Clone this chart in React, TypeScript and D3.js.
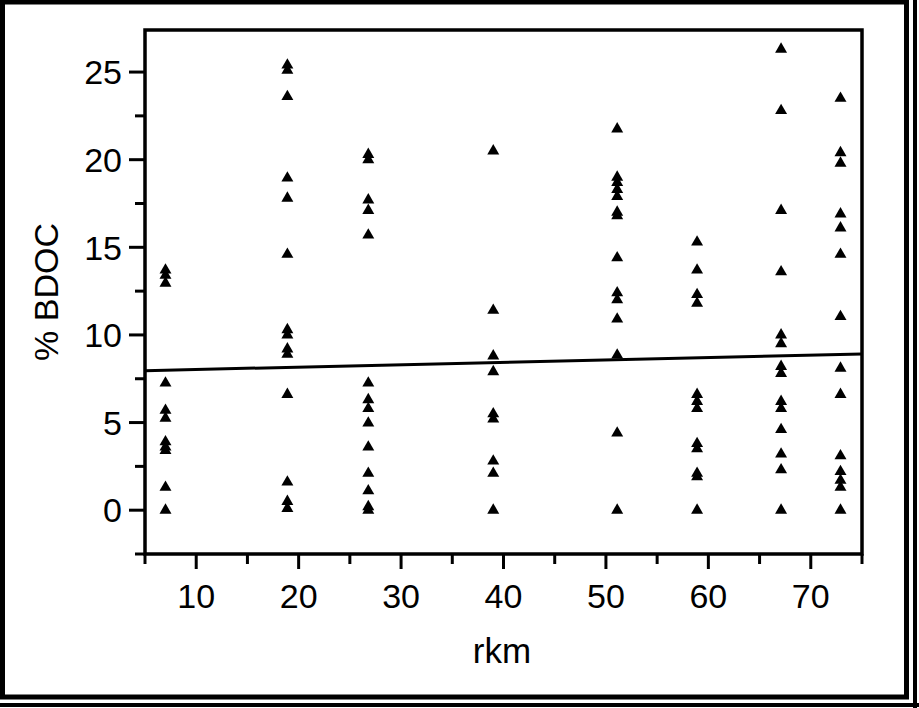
import React from "react";
import * as d3 from "d3";

const siteRkm = [7.0, 18.9, 26.8, 39.0, 51.1, 58.9, 67.1, 72.9];
const bdocBySite = [
  [13.7, 13.4, 12.95, 7.25, 5.7, 5.25, 3.9, 3.6, 3.4, 1.3, 0],
  [25.4, 25.1, 23.6, 18.95, 17.8, 14.6, 10.3, 10.0, 9.2, 8.9, 6.6, 1.6, 0.5, 0.1],
  [20.3, 20.0, 17.7, 17.1, 15.7, 7.25, 6.3, 5.8, 4.97, 3.6, 2.1, 1.1, 0.2, 0],
  [20.5, 11.4, 8.8, 7.9, 5.5, 5.2, 2.8, 2.1, 0],
  [21.75, 19.0, 18.7, 18.3, 17.9, 17.0, 16.8, 14.4, 12.4, 12.0, 10.9, 8.85, 4.4, 0],
  [15.3, 13.7, 12.3, 11.8, 6.6, 6.2, 5.8, 3.8, 3.5, 2.1, 1.9, 0],
  [26.3, 22.8, 17.1, 13.6, 10.0, 9.5, 8.2, 7.8, 6.2, 5.8, 4.6, 3.2, 2.3, 0],
  [23.5, 20.4, 19.8, 16.9, 16.1, 14.6, 11.05, 8.1, 6.6, 3.1, 2.2, 1.7, 1.3, 0],
];
const fitRkm = [5, 75];
const fitBdoc = [7.96, 8.91];
const xMajorTicks = [10, 20, 30, 40, 50, 60, 70];
const xMinorTicks = [5, 15, 25, 35, 45, 55, 65, 75];
const yMajorTicks = [0, 5, 10, 15, 20, 25];
const yMinorTicks = [-2.5, 2.5, 7.5, 12.5, 17.5, 22.5];

const W = 919;
const H = 708;
const L = 145, R = 862, T = 30, B = 554;
const FONT = "'Liberation Sans', Arial, Helvetica, sans-serif";

export default function App() {
  const x = d3.scaleLinear().domain([5, 75]).range([L, R]);
  const y = d3.scaleLinear().domain([-2.5, 27.4]).range([B, T]);
  const tri = d3.symbol().type(d3.symbolTriangle).size(62)();
  const points: { rkm: number; v: number }[] = [];
  siteRkm.forEach((r, i) => bdocBySite[i].forEach((v) => points.push({ rkm: r, v })));
  const fitLine = d3
    .line<number>()
    .x((_, i) => x(fitRkm[i]))
    .y((d) => y(d))(fitBdoc);

  return (
    <svg
      width={W}
      height={H}
      style={{ position: "absolute", left: 0, top: 0, background: "#fff" }}
      fontFamily={FONT}
    >
      {/* outer border */}
      <rect x={2.5} y={2} width={904} height={695} fill="none" stroke="#000" strokeWidth={5} />
      <line x1={915} y1={0} x2={915} y2={H} stroke="#000" strokeWidth={4} />
      <line x1={0} y1={705} x2={W} y2={705} stroke="#000" strokeWidth={4} />

      {/* regression line */}
      <path d={fitLine ?? ""} fill="none" stroke="#000" strokeWidth={3} />

      {/* points */}
      {points.map((p, i) => (
        <path key={i} d={tri ?? ""} transform={`translate(${x(p.rkm)},${y(p.v)})`} fill="#000" />
      ))}

      {/* plot frame */}
      <rect x={L} y={T} width={R - L} height={B - T} fill="none" stroke="#000" strokeWidth={3.5} />

      {/* y ticks */}
      {yMajorTicks.map((t) => (
        <g key={"ym" + t}>
          <line x1={L - 16} x2={L} y1={y(t)} y2={y(t)} stroke="#000" strokeWidth={3} />
          <text x={L - 23} y={y(t)} dy="0.36em" textAnchor="end" fontSize={34} fill="#000">
            {t}
          </text>
        </g>
      ))}
      {yMinorTicks.map((t) => (
        <line key={"yn" + t} x1={L - 10} x2={L} y1={y(t)} y2={y(t)} stroke="#000" strokeWidth={3} />
      ))}

      {/* x ticks */}
      {xMajorTicks.map((t) => (
        <g key={"xm" + t}>
          <line x1={x(t)} x2={x(t)} y1={B} y2={B + 15} stroke="#000" strokeWidth={3} />
          <text x={x(t)} y={608} textAnchor="middle" fontSize={34} fill="#000">
            {t}
          </text>
        </g>
      ))}
      {xMinorTicks.map((t) => (
        <line key={"xn" + t} x1={x(t)} x2={x(t)} y1={B} y2={B + 10} stroke="#000" strokeWidth={3} />
      ))}

      {/* axis titles */}
      <text x={502} y={663} textAnchor="middle" fontSize={35} fill="#000">
        rkm
      </text>
      <text
        transform={`translate(58,292) rotate(-90)`}
        textAnchor="middle"
        fontSize={34}
        fill="#000"
      >
        % BDOC
      </text>
    </svg>
  );
}
